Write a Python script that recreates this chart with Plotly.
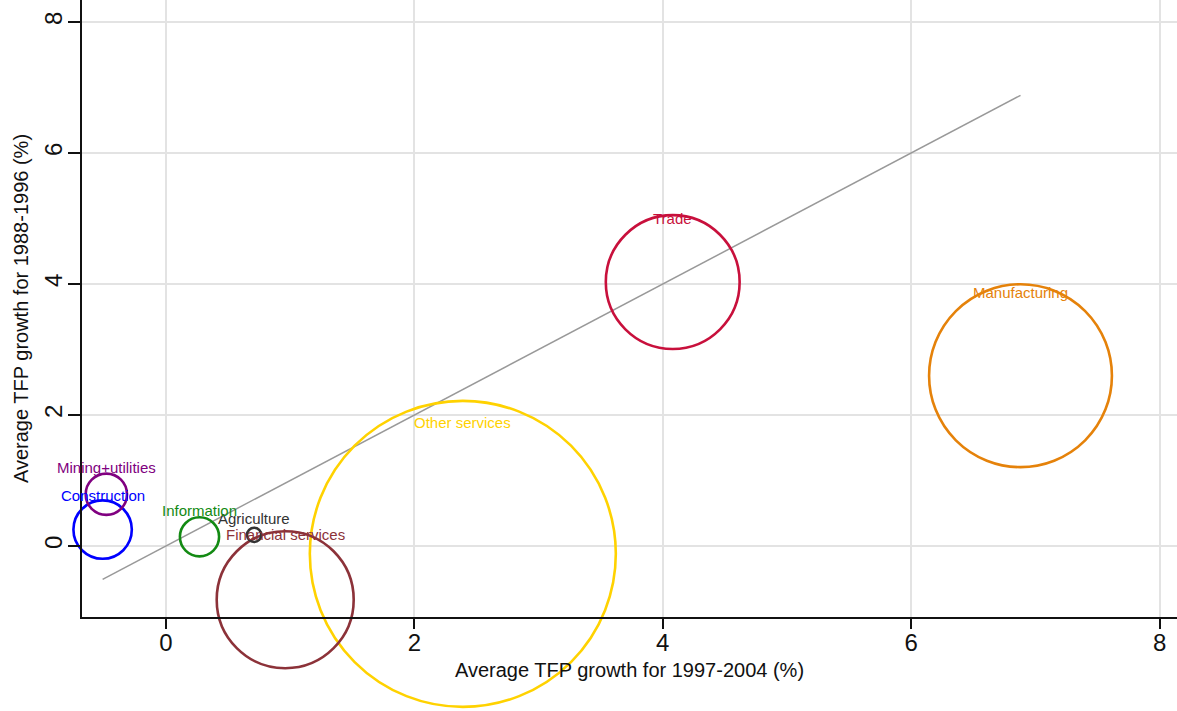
import math
import plotly.graph_objects as go

# Sector TFP growth: 1997-2004 (x) vs 1988-1996 (y), bubble area = sector weight (%)
sectors = ["Trade", "Manufacturing", "Other services", "Financial services",
           "Agriculture", "Information", "Construction", "Mining+utilities"]
tfp_1997_2004 = [4.08, 6.88, 2.39, 0.96, 0.71, 0.27, -0.51, -0.48]
tfp_1988_1996 = [4.03, 2.60, -0.12, -0.82, 0.17, 0.14, 0.25, 0.79]
weights = [10.5, 19.6, 54.9, 11.0, 0.12, 0.9, 2.0, 1.0]
colors = ["#C8103C", "#E5820A", "#FFD200", "#8C3239",
          "#333333", "#138A13", "#0000FF", "#800080"]

x_ticks = [0, 2, 4, 6, 8]
y_ticks = [0, 2, 4, 6, 8]

FONT = "Liberation Sans, Arial, Helvetica, sans-serif"
MAX_DIAMETER = 306
sizeref = 2.0 * max(weights) / MAX_DIAMETER ** 2

fig = go.Figure()

# 45-degree reference line across the range of the x values
x0, x1 = min(tfp_1997_2004), max(tfp_1997_2004)
fig.add_trace(go.Scatter(
    x=[x0, x1], y=[x0, x1], mode="lines",
    line=dict(color="#999999", width=1.5),
    hoverinfo="skip", showlegend=False, cliponaxis=False,
))

# Hollow bubbles, one per sector
fig.add_trace(go.Scatter(
    x=tfp_1997_2004, y=tfp_1988_1996, mode="markers",
    text=sectors, hoverinfo="text",
    marker=dict(
        size=weights, sizemode="area", sizeref=sizeref, opacity=1,
        color="rgba(0,0,0,0)",
        line=dict(color=colors, width=2.6),
    ),
    showlegend=False, cliponaxis=False,
))

# Sector names placed near the top of each bubble
for name, xv, yv, w, c in zip(sectors, tfp_1997_2004, tfp_1988_1996, weights, colors):
    radius = math.sqrt(w / 2.0 / sizeref)
    fig.add_annotation(
        x=xv, y=yv, text=name, showarrow=False,
        yshift=0.79 * radius + 10.7,
        font=dict(family=FONT, size=15, color=c),
    )

fig.update_layout(
    width=1177, height=711,
    margin=dict(l=82, r=0, t=0, b=94),
    plot_bgcolor="white", paper_bgcolor="white",
    font=dict(family=FONT, color="#111111"),
    xaxis=dict(
        range=[-0.676, 8.14], tickvals=x_ticks,
        showgrid=True, gridcolor="#E3E3E3", gridwidth=2,
        zeroline=False, showline=True, linecolor="#111111", linewidth=1.5,
        ticks="outside", ticklen=10, tickwidth=1.5, tickcolor="#111111",
        ticklabelstandoff=-7,
        tickfont=dict(size=24, family=FONT),
        title=dict(text="Average TFP growth for 1997-2004 (%)",
                   font=dict(size=20, family=FONT), standoff=8),
    ),
    yaxis=dict(
        range=[-1.084, 8.336], tickvals=y_ticks, tickangle=-90,
        showgrid=True, gridcolor="#E3E3E3", gridwidth=2,
        zeroline=False, showline=True, linecolor="#111111", linewidth=1.5,
        ticks="outside", ticklen=12, tickwidth=1.5, tickcolor="#111111",
        ticklabelstandoff=-3,
        tickfont=dict(size=24, family=FONT),
        title=dict(text="Average TFP growth for 1988-1996 (%)",
                   font=dict(size=20, family=FONT), standoff=6),
    ),
)

fig.write_html("out.html")
